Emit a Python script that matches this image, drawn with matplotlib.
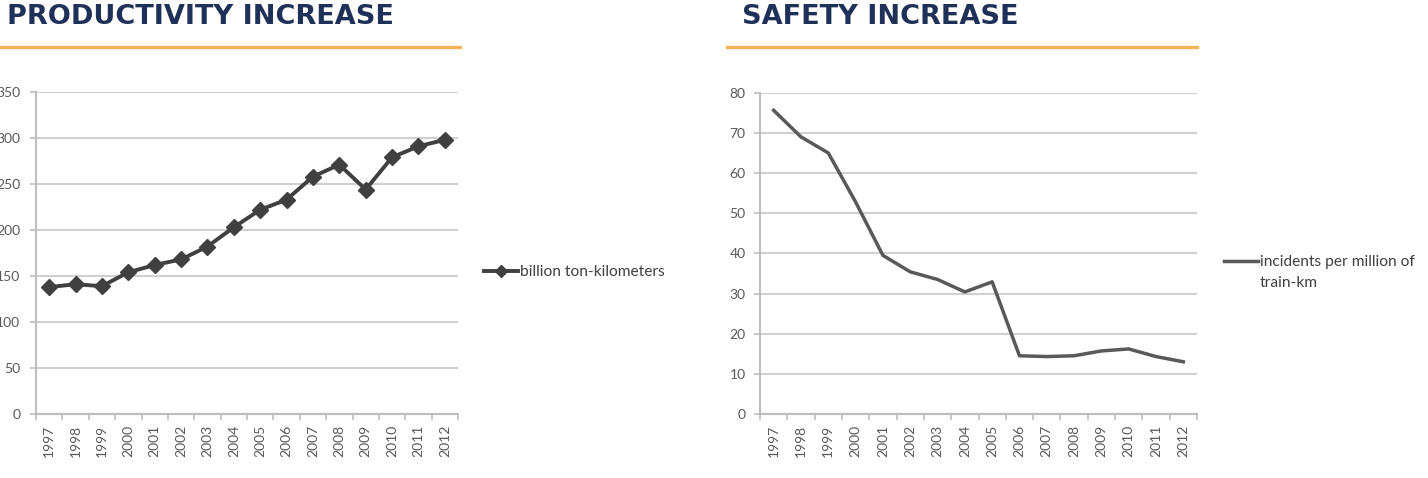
import matplotlib
matplotlib.use("Agg")
import matplotlib.pyplot as plt
from matplotlib.lines import Line2D

years = ["1997", "1998", "1999", "2000", "2001", "2002", "2003", "2004",
         "2005", "2006", "2007", "2008", "2009", "2010", "2011", "2012"]
ton_km = [138, 141, 139, 154, 162, 168, 182, 203, 222, 233, 258, 271, 244, 279, 291, 298]
incidents = [75.6, 69, 65, 52.8, 39.5, 35.4, 33.5, 30.4, 32.9, 14.5, 14.3, 14.5, 15.7, 16.2, 14.3, 13.0]

title_left = "PRODUCTIVITY INCREASE"
title_right = "SAFETY INCREASE"
legend_left = "billion ton-kilometers"
legend_right_1 = "incidents per million of"
legend_right_2 = "train-km"

W, H = 1428, 478
fig = plt.figure(figsize=(W / 100, H / 100), dpi=100)
fig.patch.set_facecolor("white")

TICK_FONT = "Lato"
GRID = "#d0d0d0"
AXC = "#bdbdbd"
TXT = "#595959"
LEG_SIZE = 11.2


def px_axes(x0, x1, ytop, ybot):
    return fig.add_axes([x0 / W, (H - ybot) / H, (x1 - x0) / W, (ybot - ytop) / H])


def style(ax, ymax, ystep, ypad):
    n = len(years)
    ax.set_xlim(-0.5, n - 0.5)
    ax.set_ylim(0, ymax)
    ax.set_yticks(range(0, ymax + 1, ystep))
    ax.set_xticks(range(n))
    ax.set_xticklabels(years, rotation=90, fontsize=10, family=TICK_FONT, color=TXT)
    ax.set_xticks([i - 0.5 for i in range(n + 1)], minor=True)
    ax.tick_params(axis="x", which="major", length=0, pad=8)
    ax.tick_params(axis="x", which="minor", length=4.3, width=1.2, color=AXC)
    ax.tick_params(axis="y", length=4.3, width=1.2, color=AXC, labelsize=10, labelcolor=TXT, pad=ypad)
    for lab in ax.get_yticklabels():
        lab.set_family(TICK_FONT)
    for s in ["top", "right"]:
        ax.spines[s].set_visible(False)
    for s in ["left", "bottom"]:
        ax.spines[s].set_color(AXC)
        ax.spines[s].set_linewidth(1.5)
    ax.yaxis.grid(True, color=GRID, linewidth=1.5)
    ax.set_axisbelow(True)


# Left chart
axL = px_axes(36, 458, 92, 414)
style(axL, 350, 50, 7)
lineL, = axL.plot(range(len(years)), ton_km, color="#404040", linewidth=2.8,
                  marker="D", markersize=8.5, label=legend_left)
axL.legend(handles=[lineL], loc="center left", bbox_to_anchor=(1.028, 0.44), frameon=False,
           prop={"family": TICK_FONT, "size": LEG_SIZE}, labelcolor="#404040",
           handlelength=2.2, handletextpad=0.1, markerscale=0.75)

# Right chart
axR = px_axes(760, 1197, 92.7, 414)
style(axR, 80, 10, 6)
lineR, = axR.plot(range(len(years)), incidents, color="#595959", linewidth=2.5, label=legend_right_1)
legR = axR.legend(handles=[lineR], loc="center left", bbox_to_anchor=(1.03, 0.473), frameon=False,
                  prop={"family": TICK_FONT, "size": LEG_SIZE}, labelcolor="#404040",
                  handlelength=2.2, handletextpad=0.1)

# Titles and orange rules
NAVY = "#1f3158"
fig.text(7 / W, 1 - 17 / H, title_left, fontsize=19.5, fontweight="bold", color=NAVY,
         family="DejaVu Sans", va="center", ha="left")
fig.text(742 / W, 1 - 17 / H, title_right, fontsize=19.5, fontweight="bold", color=NAVY,
         family="DejaVu Sans", va="center", ha="left")
ORANGE = "#f6b45a"
fig.add_artist(Line2D([0 / W, 460 / W], [1 - 46.5 / H, 1 - 46.5 / H], color=ORANGE, linewidth=2.4,
                      transform=fig.transFigure))
fig.add_artist(Line2D([727 / W, 1197 / W], [1 - 46.5 / H, 1 - 46.5 / H], color=ORANGE, linewidth=2.4,
                      transform=fig.transFigure))

# second line of the right legend, aligned under the first
fig.canvas.draw()
bb = legR.get_texts()[0].get_window_extent()
fig.text(bb.x0 / W, (bb.y0 - 21) / H, legend_right_2, family=TICK_FONT, fontsize=LEG_SIZE,
         color="#404040", ha="left", va="bottom")

fig.savefig("out.png", dpi=100, facecolor="white")
